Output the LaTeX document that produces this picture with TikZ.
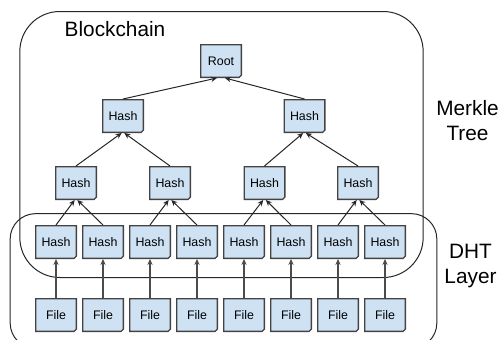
\documentclass[tikz,border=0pt]{standalone}
\usepackage{fontspec}
\setmainfont{Liberation Sans}
\usepackage{tikz}
\usetikzlibrary{shapes.misc,arrows.meta}
\definecolor{boxblue}{HTML}{CFE2F3}
\definecolor{boxline}{HTML}{434343}

\begin{document}
\begin{tikzpicture}[x=0.75pt, y=-0.75pt, >={Stealth[length=4.5pt,width=4pt]},
    main/.style = {draw=boxline, fill=boxblue, line width=1pt, minimum width=30.5pt, minimum height=24.5pt, inner sep=0pt, font=\fontsize{9.3}{11}\selectfont, chamfered rectangle, chamfered rectangle corners=south east, chamfered rectangle xsep=0.8pt, chamfered rectangle ysep=0.8pt},
    link/.style = {->, draw=black!85, line width=0.75pt},
    feed/.style = {->, draw=black!70, line width=0.9pt},
    region/.style = {draw=black!85, line width=0.75pt, rounded corners},
    title/.style = {font=\fontsize{15.6}{18}\selectfont, align=center, inner sep=0pt}]
    \useasboundingbox (0,0) rectangle (499,339);

    % regions go first, the boxes sit on top
    \node[region, rounded corners=30pt, minimum width=302.5pt, minimum height=199.5pt, inner sep=0pt] (chain) at (221.5,144.5) {};
    \node[region, rounded corners=19pt, minimum width=320pt, minimum height=101pt, inner sep=0pt] (dht) at (223.5,281) {};

    \node[main] (root) at (221,61) {Root};

    \node[main] (h1) at (123,116) {Hash};
    \node[main] (h2) at (304.5,116) {Hash};

    \node[main] (m1) at (76,183) {Hash};
    \node[main] (m2) at (170,183) {Hash};
    \node[main] (m3) at (264.5,183) {Hash};
    \node[main] (m4) at (358,183) {Hash};

    \node[main] (l1) at (56,242) {Hash};
    \node[main] (l2) at (103,242) {Hash};
    \node[main] (l3) at (150,242) {Hash};
    \node[main] (l4) at (197,242) {Hash};
    \node[main] (l5) at (244,242) {Hash};
    \node[main] (l6) at (291,242) {Hash};
    \node[main] (l7) at (338,242) {Hash};
    \node[main] (l8) at (385,242) {Hash};

    \node[main] (f1) at (56,315) {File};
    \node[main] (f2) at (103,315) {File};
    \node[main] (f3) at (150,315) {File};
    \node[main] (f4) at (197,315) {File};
    \node[main] (f5) at (244,315) {File};
    \node[main] (f6) at (291,315) {File};
    \node[main] (f7) at (338,315) {File};
    \node[main] (f8) at (385,315) {File};

    \node[title] (blockchain) at (115,29.5) {Blockchain};
    \node[title] (merkle) at (467.5,120.5) {Merkle\\[0.5pt]Tree};
    \node[title] (layer) at (470.5,266) {DHT\\[1pt]Layer};

\draw[link] (h1.north) -- ([xshift=-3pt]root.south);
\draw[link] (h2.north) -- ([xshift=3pt]root.south);
\draw[link] (m1.north) -- ([xshift=-1pt]h1.south);
\draw[link] (m2.north) -- ([xshift=1pt]h1.south);
\draw[link] (m3.north) -- ([xshift=-1pt]h2.south);
\draw[link] (m4.north) -- ([xshift=1pt]h2.south);
\draw[link] (l1.north) -- ([xshift=-1pt]m1.south);
\draw[link] (l2.north) -- ([xshift=1pt]m1.south);
\draw[link] (l3.north) -- ([xshift=-1pt]m2.south);
\draw[link] (l4.north) -- ([xshift=1pt]m2.south);
\draw[link] (l5.north) -- ([xshift=-1pt]m3.south);
\draw[link] (l6.north) -- ([xshift=1pt]m3.south);
\draw[link] (l7.north) -- ([xshift=-1pt]m4.south);
\draw[link] (l8.north) -- ([xshift=1pt]m4.south);
\foreach \i in {1,...,8} {
    \draw[feed] (f\i.north) -- (l\i.south);
}
\end{tikzpicture}
\end{document}
